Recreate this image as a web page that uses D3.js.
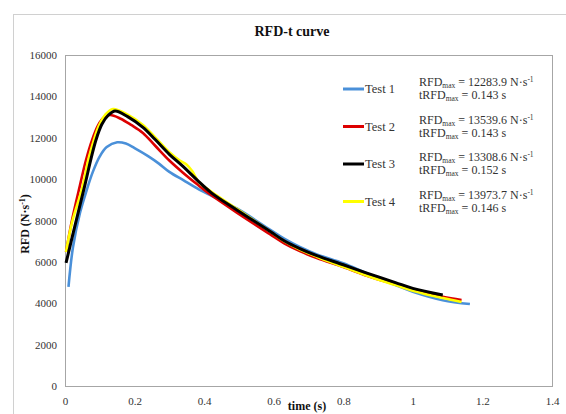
<!DOCTYPE html>
<html>
<head>
<meta charset="utf-8">
<script src="https://cdn.jsdelivr.net/npm/d3@7"></script>
<style>
  html, body { margin: 0; padding: 0; background: #fff; }
  svg { display: block; font-family: "Liberation Serif", "DejaVu Serif", serif; }
</style>
</head>
<body>
<svg id="chart" width="566" height="414"></svg>
<script>
// ---- Data ----
const seriesNames = ["Test 1", "Test 2", "Test 3", "Test 4"];
const seriesColors = ["#4a90d9", "#dd0000", "#000000", "#ffff00"];

const test1T = [0.010, 0.023, 0.043, 0.062, 0.080, 0.100, 0.120, 0.150, 0.175, 0.200, 0.240, 0.270, 0.300, 0.340, 0.380, 0.420, 0.494, 0.589, 0.630, 0.675, 0.724, 0.800, 0.868, 0.950, 1.000, 1.086, 1.164];
const test1V = [4790, 6720, 8360, 9450, 10350, 11100, 11550, 11780, 11720, 11500, 11100, 10750, 10350, 9950, 9550, 9200, 8580, 7560, 7120, 6720, 6360, 5930, 5440, 4880, 4560, 4150, 3960];

const test2T = [0.003, 0.020, 0.043, 0.060, 0.078, 0.095, 0.110, 0.129, 0.160, 0.190, 0.224, 0.260, 0.300, 0.340, 0.380, 0.420, 0.494, 0.589, 0.630, 0.675, 0.724, 0.800, 0.868, 0.950, 1.000, 1.086, 1.140];
const test2V = [6480, 8000, 9700, 10900, 11900, 12600, 12950, 13100, 12920, 12620, 12230, 11600, 10900, 10300, 9750, 9230, 8380, 7340, 6900, 6520, 6180, 5750, 5330, 4900, 4640, 4310, 4160];

const test3T = [0.003, 0.025, 0.057, 0.075, 0.089, 0.106, 0.125, 0.144, 0.180, 0.224, 0.260, 0.300, 0.340, 0.380, 0.420, 0.494, 0.589, 0.630, 0.675, 0.724, 0.800, 0.868, 0.950, 1.000, 1.086];
const test3V = [5950, 7500, 9700, 11000, 11890, 12650, 13100, 13290, 13020, 12500, 11900, 11200, 10600, 9950, 9350, 8510, 7480, 7020, 6640, 6300, 5860, 5460, 5000, 4720, 4400];

const test4T = [0.003, 0.020, 0.050, 0.068, 0.083, 0.098, 0.115, 0.138, 0.180, 0.224, 0.260, 0.300, 0.330, 0.350, 0.365, 0.385, 0.420, 0.494, 0.589, 0.630, 0.675, 0.724, 0.800, 0.868, 0.950, 1.000, 1.086, 1.140];
const test4V = [6480, 7900, 9600, 11000, 11890, 12600, 13100, 13390, 13120, 12620, 12000, 11300, 10900, 10700, 10400, 9850, 9400, 8560, 7480, 7000, 6600, 6250, 5760, 5330, 4880, 4610, 4250, 4060];

const rfdMax = ["12283.9", "13539.6", "13308.6", "13973.7"];
const tRfdMax = ["0.143", "0.143", "0.152", "0.146"];

const xTicks = [0, 0.2, 0.4, 0.6, 0.8, 1, 1.2, 1.4];
const yTicks = [0, 2000, 4000, 6000, 8000, 10000, 12000, 14000, 16000];

const titleText = "RFD-t curve";
const xTitle = "time (s)";

// ---- Layout ----
const svg = d3.select("#chart");
const plot = { left: 65, top: 55, right: 552, bottom: 386 };

const x = d3.scaleLinear().domain([0, 1.4]).range([plot.left, plot.right]);
const y = d3.scaleLinear().domain([0, 16000]).range([plot.bottom, plot.top]);

// Outer chart border
svg.append("rect")
  .attr("x", 13.5).attr("y", 14.5)
  .attr("width", 580).attr("height", 420)
  .attr("fill", "#fff").attr("stroke", "#d0d0d0").attr("stroke-width", 1);

// Plot area border
svg.append("rect")
  .attr("x", plot.left + 0.5).attr("y", plot.top + 0.5)
  .attr("width", plot.right - plot.left).attr("height", plot.bottom - plot.top)
  .attr("fill", "none").attr("stroke", "#a6a6a6").attr("stroke-width", 1);

// Axes (labels only, as in the reference)
const xAxis = d3.axisBottom(x).tickValues(xTicks).tickSize(0).tickPadding(11)
  .tickFormat(d => d3.format("")(d));
const yAxis = d3.axisLeft(y).tickValues(yTicks).tickSize(0).tickPadding(8)
  .tickFormat(d3.format("d"));

const gx = svg.append("g").attr("transform", `translate(0,${plot.bottom})`).call(xAxis);
const gy = svg.append("g").attr("transform", `translate(${plot.left},0)`).call(yAxis);
[gx, gy].forEach(g => {
  g.select(".domain").remove();
  g.selectAll("text")
    .attr("font-family", "'Liberation Serif', serif")
    .attr("font-size", 11)
    .attr("fill", "#333");
});

// Title
svg.append("text")
  .attr("x", 292).attr("y", 36)
  .attr("text-anchor", "middle")
  .attr("font-size", 14).attr("font-weight", "bold").attr("fill", "#111")
  .text(titleText);

// X title
svg.append("text")
  .attr("x", 307).attr("y", 410)
  .attr("text-anchor", "middle")
  .attr("font-size", 12).attr("font-weight", "bold").attr("fill", "#111")
  .text(xTitle);

// Y title
const yt = svg.append("text")
  .attr("transform", "translate(29,224) rotate(-90)")
  .attr("text-anchor", "middle")
  .attr("font-size", 12).attr("font-weight", "bold").attr("fill", "#111");
yt.append("tspan").text("RFD (N·s");
yt.append("tspan").attr("baseline-shift", "super").attr("font-size", 8).text("-1");
yt.append("tspan").text(")");

// Lines
const seriesT = [test1T, test2T, test3T, test4T];
const seriesV = [test1V, test2V, test3V, test4V];
const widths = [2.6, 2.6, 3.0, 2.6];
const line = d3.line().x(d => x(d[0])).y(d => y(d[1])).curve(d3.curveCatmullRom.alpha(0.5));

const drawOrder = [0, 1, 3, 2];
drawOrder.forEach(i => {
  const pts = seriesT[i].map((t, k) => [t, seriesV[i][k]]);
  svg.append("path")
    .datum(pts)
    .attr("d", line)
    .attr("fill", "none")
    .attr("stroke", seriesColors[i])
    .attr("stroke-width", widths[i])
    .attr("stroke-linejoin", "round")
    .attr("stroke-linecap", "butt");
});

// Legend + annotations
const legendY0 = 89, legendStep = 37.5;
seriesNames.forEach((name, i) => {
  const cy = legendY0 + i * legendStep;
  svg.append("line")
    .attr("x1", 343).attr("x2", 364)
    .attr("y1", cy).attr("y2", cy)
    .attr("stroke", seriesColors[i]).attr("stroke-width", 3);
  svg.append("text")
    .attr("x", 365).attr("y", cy + 4)
    .attr("font-size", 12.5).attr("fill", "#333")
    .text(name);

  const t1 = svg.append("text")
    .attr("x", 419).attr("y", cy - 3)
    .attr("font-size", 12).attr("fill", "#333");
  t1.append("tspan").text("RFD");
  t1.append("tspan").attr("dy", 2).attr("font-size", 7.5).text("max");
  t1.append("tspan").attr("dy", -2).text(` = ${rfdMax[i]} N·s`);
  t1.append("tspan").attr("dy", -4).attr("font-size", 7.5).text("-1");

  const t2 = svg.append("text")
    .attr("x", 419).attr("y", cy + 10)
    .attr("font-size", 12).attr("fill", "#333");
  t2.append("tspan").text("tRFD");
  t2.append("tspan").attr("dy", 2).attr("font-size", 7.5).text("max");
  t2.append("tspan").attr("dy", -2).text(` = ${tRfdMax[i]} s`);
});
</script>
</body>
</html>
